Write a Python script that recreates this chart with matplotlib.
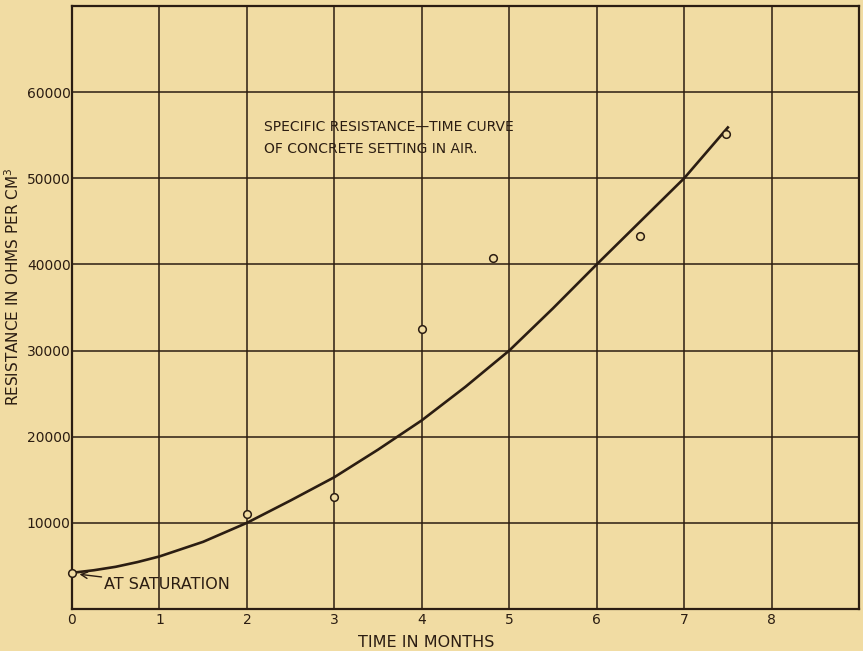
import matplotlib.pyplot as plt

# observed specific resistance, ohms per cm^3
months_obs = [0, 2, 3, 4, 4.82, 6.5, 7.48]
resist_obs = [4200, 11000, 13000, 32500, 40800, 43300, 55100]

# smoothed curve read at half-month steps
months_curve = [0, 0.25, 0.5, 0.75, 1, 1.5, 2, 2.5, 3, 3.5, 4, 4.5, 5, 5.5, 6, 6.5, 7, 7.5]
resist_curve = [4200, 4500, 4900, 5450, 6100, 7800, 10000, 12600, 15300, 18500,
                21900, 25800, 30000, 34900, 40000, 45000, 50000, 55900]

x_ticks = [0, 1, 2, 3, 4, 5, 6, 7, 8]
y_ticks = [10000, 20000, 30000, 40000, 50000, 60000]

paper = '#f1dca3'
ink = '#2b1d12'

plt.rcParams['font.family'] = 'DejaVu Sans'

fig = plt.figure(figsize=(8.63, 6.51), dpi=100)
fig.patch.set_facecolor(paper)
ax = fig.add_axes([0.0834, 0.0645, 0.9120, 0.9263])
ax.set_facecolor(paper)

ax.set_xlim(0, 9)
ax.set_ylim(0, 70000)
ax.set_xticks(x_ticks)
ax.set_yticks(y_ticks)
ax.set_xticklabels([str(t) for t in x_ticks], fontsize=10, color=ink)
ax.set_yticklabels([str(t) for t in y_ticks], fontsize=10, color=ink)
ax.tick_params(length=0, pad=3)
ax.tick_params(axis='y', pad=1)
ax.grid(True, color=ink, linewidth=1.1)
ax.set_axisbelow(True)
for s in ax.spines.values():
    s.set_color(ink)
    s.set_linewidth(1.6)

ax.plot(months_curve, resist_curve, color=ink, linewidth=1.9, zorder=3)
ax.plot(months_obs, resist_obs, 'o', markersize=5.5, markerfacecolor=paper,
        markeredgecolor=ink, markeredgewidth=1.1, zorder=4, clip_on=False)

ax.text(2.2, 56000, 'SPECIFIC RESISTANCE\u2014TIME CURVE', fontsize=10, color=ink,
        va='center', ha='left')
ax.text(2.2, 53400, 'OF CONCRETE SETTING IN AIR.', fontsize=10, color=ink,
        va='center', ha='left')

ax.annotate('AT SATURATION', xy=(months_obs[0] + 0.07, resist_obs[0] - 150),
            xytext=(0.37, 2800), fontsize=11.5, color=ink, va='center', ha='left',
            arrowprops=dict(arrowstyle='->', color=ink, lw=1.0,
                            shrinkA=0, shrinkB=1))

ax.set_xlabel('TIME IN MONTHS', fontsize=11.5, color=ink, va='center')
ax.xaxis.set_label_coords(0.45, -0.055)
ax.set_ylabel('RESISTANCE IN OHMS PER CM$^3$', fontsize=11, color=ink, va='center')
ax.yaxis.set_label_coords(-0.075, 0.534)

fig.savefig('out.png', dpi=100, facecolor=paper)
